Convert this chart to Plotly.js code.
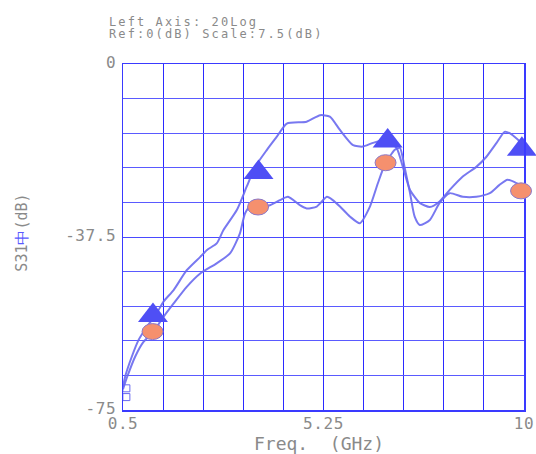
<!DOCTYPE html>
<html>
<head>
<meta charset="utf-8">
<script src="https://cdn.plot.ly/plotly-3.0.1.min.js"></script>
<style>
  html, body { margin: 0; padding: 0; background: #fff; }
  .xtick text, .ytick text { letter-spacing: 0.6px; }
  g.annotation[data-index="0"] text, g.annotation[data-index="1"] text { letter-spacing: 2.1px; }
</style>
</head>
<body>
<div id="chart" style="width:536px;height:454px;"></div>
<script>
// Upper trace (triangle markers)
const freqU = [0.5, 0.55, 0.71, 0.87, 1.07, 1.30, 1.46, 1.70, 2.01, 2.33, 2.49, 2.72, 2.88, 3.20, 3.43, 3.63, 3.91, 4.14, 4.38, 4.85, 5.17, 5.40, 5.64, 5.95, 6.18, 6.42, 6.73, 6.98, 7.13, 7.30, 7.53, 7.77, 8.00, 8.24, 8.55, 8.87, 9.11, 9.35, 9.54, 9.66, 9.90, 10.0];
const s31U  = [-70.0, -67.8, -63.4, -59.8, -56.9, -54.0, -51.5, -49.0, -44.7, -41.8, -40.3, -38.9, -36.0, -31.6, -26.6, -22.3, -18.6, -15.8, -12.9, -12.5, -11.1, -11.4, -14.3, -17.6, -17.9, -17.1, -16.5, -18.2, -22.3, -27.3, -30.1, -31.0, -29.8, -27.3, -24.4, -22.3, -20.1, -17.1, -14.7, -15.0, -16.8, -18.2];
// Lower trace (circle markers)
const freqL = [0.5, 0.60, 0.79, 0.99, 1.19, 1.46, 1.70, 2.01, 2.33, 2.72, 3.04, 3.27, 3.39, 3.51, 3.71, 3.98, 4.22, 4.41, 4.69, 4.85, 5.09, 5.33, 5.47, 5.64, 5.88, 6.11, 6.35, 6.54, 6.70, 6.94, 7.06, 7.17, 7.30, 7.41, 7.53, 7.77, 8.00, 8.24, 8.55, 8.87, 9.19, 9.42, 9.61, 9.82, 10.0];
const s31L  = [-70.5, -67.8, -63.4, -60.2, -58.4, -54.8, -51.9, -48.3, -45.4, -43.2, -41.0, -36.7, -32.4, -30.9, -30.9, -30.6, -29.5, -28.8, -30.6, -31.3, -30.9, -28.8, -29.5, -30.9, -33.1, -34.5, -30.9, -25.8, -21.9, -18.6, -18.2, -22.3, -28.0, -33.1, -34.9, -33.8, -30.1, -28.0, -28.8, -28.8, -28.0, -26.2, -25.1, -25.8, -26.9];
// Markers
const markerFreq = [1.21, 3.71, 6.77, 9.95];
const triangleY  = [-54.5, -23.5, -16.7, -18.5];
const circleFreq = [1.20, 3.70, 6.72, 9.93];
const circleY    = [-58.0, -31.0, -21.4, -27.5];
// start symbol
const startFreq = [0.58, 0.58];
const startY    = [-70.3, -72.2];
const refFreq = [0.46];
const refY = [0];

const xRange = [0.5, 10];
const yRange = [-75, 0];
const xTickVals = [0.5, 5.25, 10];
const xTickText = ['0.5', '5.25', '10'];
const yTickVals = [0, -37.5, -75];
const yTickText = ['0', '-37.5', '-75'];

const gray = '#8a8a8a';
const mono = 'DejaVu Sans Mono, monospace';
const curveColor = 'rgba(105,105,238,0.9)';

const traces = [
  { x: freqL, y: s31L, mode: 'lines', line: { color: curveColor, width: 2, shape: 'spline', smoothing: 0.6 }, hoverinfo: 'skip' },
  { x: freqU, y: s31U, mode: 'lines', line: { color: curveColor, width: 2, shape: 'spline', smoothing: 0.6 }, hoverinfo: 'skip' },
  { x: startFreq, y: startY, mode: 'markers', marker: { symbol: 'square-open', size: 7, color: '#6a6af0', line: { width: 1 } }, cliponaxis: false },
  { x: refFreq, y: refY, mode: 'markers', marker: { symbol: 'square', size: 3, color: '#ff2020' }, cliponaxis: false },
  { x: markerFreq, y: triangleY, mode: 'markers', marker: { symbol: 'triangle-up', size: 26, color: '#4f4ff5', line: { width: 0 } }, cliponaxis: false }
];

const toPaperX = v => (v - xRange[0]) / (xRange[1] - xRange[0]);
const toPaperY = v => (v - yRange[0]) / (yRange[1] - yRange[0]);
const shapes = circleFreq.map((f, i) => ({
  type: 'circle', xref: 'paper', yref: 'paper', layer: 'above',
  xsizemode: 'pixel', ysizemode: 'pixel',
  xanchor: toPaperX(f), yanchor: toPaperY(circleY[i]),
  x0: -10.5, x1: 10.5, y0: -8, y1: 8,
  fillcolor: '#f5906e', line: { color: '#8c78c8', width: 1 }
}));

const layout = {
  width: 536, height: 454,
  margin: { l: 123, r: 12, t: 64, b: 44 },
  paper_bgcolor: '#ffffff', plot_bgcolor: '#ffffff',
  showlegend: false,
  xaxis: {
    range: xRange, tickvals: xTickVals, ticktext: xTickText,
    showgrid: true, gridcolor: '#2a2aff', gridwidth: 1,
    minor: { tick0: 0.5, dtick: 0.95, showgrid: true, gridcolor: '#2a2aff', gridwidth: 1 },
    zeroline: false, showline: true, linecolor: '#3a3aff', linewidth: 1.5, mirror: true,
    ticks: '', ticklabelstandoff: -2, tickfont: { family: mono, size: 16, color: gray }, fixedrange: true
  },
  yaxis: {
    range: yRange, tickvals: yTickVals, ticktext: yTickText,
    showgrid: true, gridcolor: '#4a4aff', gridwidth: 1,
    minor: { tick0: 0, dtick: 7.5, showgrid: true, gridcolor: '#5a5aff', gridwidth: 1 },
    zeroline: false, showline: true, linecolor: '#3a3aff', linewidth: 1.5, mirror: true,
    ticks: '', ticklabelstandoff: 2, ticklabelshift: -2, tickfont: { family: mono, size: 16, color: gray }, fixedrange: true
  },
  shapes: shapes,
  annotations: [
    { text: 'Left Axis: 20Log', xref: 'paper', yref: 'paper', x: -0.0398, y: 1.121, xanchor: 'left', yanchor: 'middle', align: 'left', showarrow: false, font: { family: mono, size: 12, color: gray } },
    { text: 'Ref:0(dB) Scale:7.5(dB)', xref: 'paper', yref: 'paper', x: -0.0398, y: 1.086, xanchor: 'left', yanchor: 'middle', align: 'left', showarrow: false, font: { family: mono, size: 12, color: gray } },
    { text: 'Freq.  (GHz)', xref: 'paper', yref: 'paper', x: 0.49, y: -0.097, xanchor: 'center', yanchor: 'middle', showarrow: false, font: { family: mono, size: 18, color: gray } },
    { text: 'S31<span style="color:#5a5aff">中</span>(dB)', xref: 'paper', yref: 'paper', x: -0.2507, y: 0.514, xanchor: 'center', yanchor: 'middle', textangle: -90, showarrow: false, font: { family: mono, size: 15, color: gray } }
  ]
};

Plotly.newPlot('chart', traces, layout, { displayModeBar: false, staticPlot: true });
</script>
</body>
</html>
